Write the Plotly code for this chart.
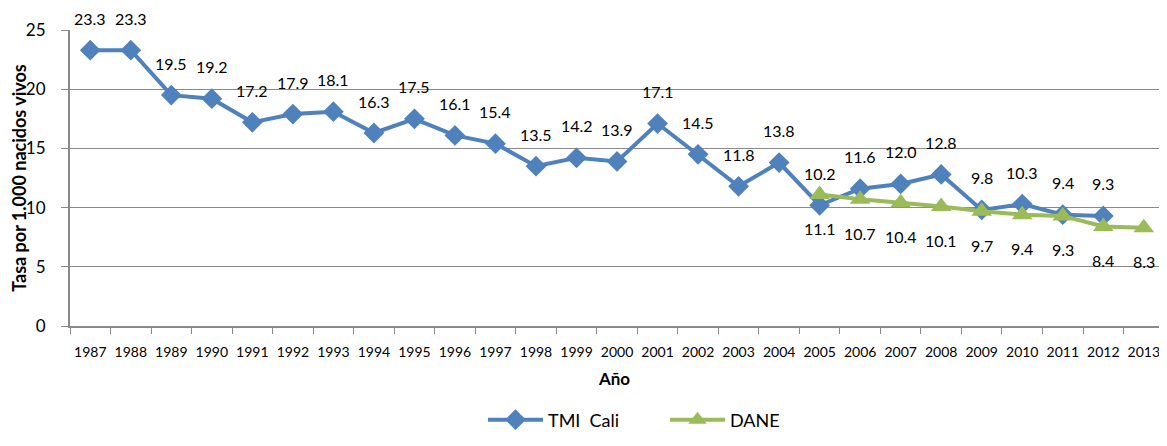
import plotly.graph_objects as go

years = [str(y) for y in range(1987, 2014)]
tmi_years = [str(y) for y in range(1987, 2013)]
tmi_vals = [23.3, 23.3, 19.5, 19.2, 17.2, 17.9, 18.1, 16.3, 17.5, 16.1, 15.4, 13.5, 14.2, 13.9,
            17.1, 14.5, 11.8, 13.8, 10.2, 11.6, 12.0, 12.8, 9.8, 10.3, 9.4, 9.3]
dane_years = [str(y) for y in range(2005, 2014)]
dane_vals = [11.1, 10.7, 10.4, 10.1, 9.7, 9.4, 9.3, 8.4, 8.3]

FONT = "Lato, 'Open Sans', sans-serif"
BLUE = "#4F81BD"
GREEN = "#9BBB59"
GRID = "#898989"

fig = go.Figure()
fig.add_trace(go.Scatter(
    x=tmi_years, y=tmi_vals, name="TMI\u00a0 Cali", mode="lines+markers",
    line=dict(color=BLUE, width=4),
    marker=dict(symbol="diamond", size=16, color=BLUE),
))
fig.add_trace(go.Scatter(
    x=dane_years, y=dane_vals, name="DANE", mode="lines+markers",
    line=dict(color=GREEN, width=4),
    marker=dict(symbol="triangle-up", size=18, color=GREEN),
))

annotations = []
for x, v in zip(tmi_years, tmi_vals):
    annotations.append(dict(x=years.index(x), y=v, xref="x", yref="y", text=f"{v:.1f}",
                            showarrow=False, yanchor="middle", yshift=32,
                            font=dict(family=FONT, size=16, color="#000000")))
for x, v in zip(dane_years, dane_vals):
    annotations.append(dict(x=years.index(x), y=v, xref="x", yref="y", text=f"{v:.1f}",
                            showarrow=False, yanchor="middle", yshift=-34,
                            font=dict(family=FONT, size=16, color="#000000")))

W, H = 1151, 428
fig.update_layout(
    width=W, height=H,
    margin=dict(l=62, r=0, t=22, b=110, autoexpand=False),
    paper_bgcolor="white", plot_bgcolor="white",
    font=dict(family=FONT, color="#000000"),
    showlegend=True,
    annotations=annotations,
    legend=dict(orientation="h", xref="container", yref="container",
                x=475 / W, xanchor="left", y=(H - 412) / H, yanchor="middle",
                font=dict(family=FONT, size=18), entrywidth=112, entrywidthmode="pixels",
                traceorder="normal", itemwidth=55),
    xaxis=dict(
        type="category", categoryorder="array", categoryarray=years,
        range=[-0.5, 26.375], tickson="boundaries", ticks="outside", ticklen=6,
        tickcolor=GRID, showline=True, linecolor=GRID, linewidth=2,
        showgrid=False, tickfont=dict(size=14), tickangle=0, ticklabelstandoff=12,
        title=dict(text="<b>Año</b>", font=dict(size=17), standoff=14),
    ),
    yaxis=dict(
        range=[0, 25], dtick=5, ticks="outside", ticklen=7, tickcolor=GRID,
        showline=True, linecolor=GRID, linewidth=2,
        showgrid=True, gridcolor=GRID, gridwidth=1, zeroline=False,
        tickfont=dict(size=17), ticklabelstandoff=12,
        title=dict(text="<b>Tasa por 1.000 nacidos vivos</b>", font=dict(size=18), standoff=6),
    ),
)

fig.write_html("out.html")
